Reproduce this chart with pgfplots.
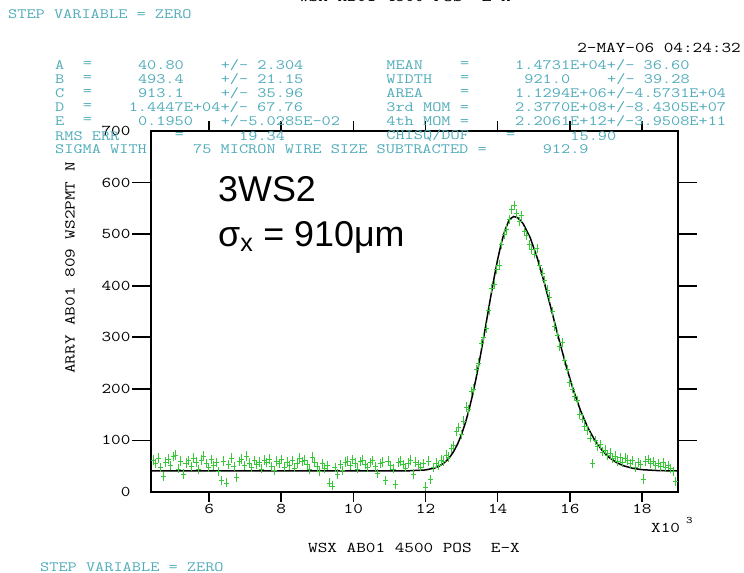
\documentclass[border=0pt]{standalone}
\usepackage{fontspec}
\newfontfamily\arial{Liberation Sans}
\usepackage{graphicx}
\usepackage{pgfplots}
\pgfplotsset{compat=1.18}
\definecolor{cyt}{RGB}{80,172,186}
\definecolor{grn}{RGB}{55,200,55}
\newcommand\M[2][15]{\scalebox{1.25}[1]{\fontsize{#1}{#1}\selectfont\ttfamily #2}}
\newcommand\Pt[3]{\node[anchor=west,inner sep=0pt,text=cyt] at ({55+#1*9.2},{573-#2}) {\M[14.3]{#3}};}
\pgfplotstableread{
x y
4.45 62
4.52 55
4.59 66
4.66 48
4.73 30
4.80 58
4.87 64
4.94 52
5.01 69
5.08 72
5.15 45
5.22 60
5.29 35
5.36 56
5.43 61
5.50 50
5.57 66
5.64 58
5.71 44
5.78 62
5.85 70
5.92 55
5.99 48
6.06 63
6.13 52
6.20 57
6.27 40
6.34 22
6.41 60
6.48 18
6.55 54
6.62 66
6.69 50
6.76 28
6.83 59
6.90 64
6.97 52
7.04 70
7.11 56
7.18 48
7.25 61
7.32 53
7.39 58
7.46 45
7.53 62
7.60 57
7.67 64
7.74 50
7.81 42
7.88 60
7.95 55
8.02 63
8.09 49
8.16 58
8.23 52
8.30 61
8.37 47
8.44 56
8.51 66
8.58 59
8.65 62
8.72 54
8.79 44
8.86 68
8.93 57
9.00 50
9.07 40
9.14 55
9.21 46
9.28 52
9.35 18
9.42 12
9.49 48
9.56 35
9.63 54
9.70 42
9.77 58
9.84 60
9.91 51
9.98 63
10.05 56
10.12 45
10.19 59
10.26 62
10.33 54
10.40 48
10.47 57
10.54 61
10.61 50
10.68 36
10.75 55
10.82 58
10.89 22
10.96 60
11.03 52
11.10 45
11.17 15
11.24 57
11.31 60
11.38 53
11.45 47
11.52 56
11.59 62
11.66 35
11.73 58
11.80 54
11.87 49
11.94 55
12.01 10
12.08 60
12.15 24
12.22 48
12.29 56
12.36 52
12.43 62
12.50 60
12.57 72
12.64 68
12.71 85
12.78 90
12.85 118
12.92 125
12.99 112
13.06 138
13.13 165
13.20 160
13.27 195
13.34 200
13.41 238
13.48 250
13.55 288
13.62 300
13.69 318
13.76 352
13.83 395
13.90 402
13.97 432
14.04 440
14.11 480
14.18 500
14.25 510
14.32 528
14.39 548
14.46 556
14.53 540
14.60 525
14.67 536
14.74 505
14.81 498
14.88 480
14.95 470
15.02 462
15.09 472
15.16 440
15.23 425
15.30 410
15.37 392
15.44 378
15.51 350
15.58 322
15.65 305
15.72 282
15.79 290
15.86 255
15.93 238
16.00 212
16.07 200
16.14 185
16.21 178
16.28 150
16.35 142
16.42 128
16.49 120
16.56 105
16.63 55
16.70 100
16.77 88
16.84 92
16.91 78
16.98 82
17.05 72
17.12 76
17.19 65
17.26 70
17.33 60
17.40 67
17.47 58
17.54 66
17.61 62
17.68 55
17.75 61
17.82 48
17.89 57
17.96 53
18.03 25
18.10 60
18.17 63
18.24 56
18.31 59
18.38 52
18.45 55
18.52 50
18.59 57
18.66 48
18.73 52
18.80 46
18.87 40
18.94 20
}\meas
\begin{document}
\begin{tikzpicture}[x=1bp,y=1bp]
\useasboundingbox (0,0) rectangle (744,573);
\begin{axis}[at={(151bp,81bp)}, anchor=south west, scale only axis,
  width=527bp, height=361bp,
  xmin=4.39, xmax=19.0, ymin=0, ymax=700,
  axis line style={line width=1.6bp},
  major tick length=0bp,
  tick style={draw=none},
  xtick={6,8,10,12,14,16,18},
  xticklabels={\M{6},\M{8},\M{10},\M{12},\M{14},\M{16},\M{18}},
  xticklabel style={yshift=-9bp},
  ytick={0,100,200,300,400,500,600,700},
  yticklabels={\M{0},\M{100},\M{200},\M{300},\M{400},\M{500},\M{600},\M{700}},
  yticklabel style={xshift=-17bp},
  clip=false]
\pgfplotsinvokeforeach{6,8,10,12,14,16,18}{
  \draw[black, line width=1.6bp] (axis cs:#1,0) -- ([yshift=-10bp]axis cs:#1,0);
  \draw[black, line width=1.6bp] (axis cs:#1,700) -- ([yshift=10bp]axis cs:#1,700);
}
\pgfplotsinvokeforeach{100,200,300,400,500,600}{
  \draw[black, line width=1.6bp] (axis cs:4.39,#1) -- ([xshift=-19bp]axis cs:4.39,#1);
  \draw[black, line width=1.6bp] (axis cs:19.0,#1) -- ([xshift=19bp]axis cs:19.0,#1);
}
\addplot[black, line width=1.5bp] coordinates {
(4.39,40.8) (11.5,40.96) (12.0,42.74) (12.25,46.47) (12.375,50.08) (12.5,55.57)
(12.6,61.79) (12.7,70.07) (12.8,80.87) (12.9,94.68) (13.0,111.85) (13.1,132.8)
(13.2,157.8) (13.3,186.8) (13.4,219.7) (13.5,255.9) (13.6,294.8) (13.7,335.2)
(13.8,375.7) (13.9,414.8) (14.0,450.9) (14.1,482.2) (14.2,507.1) (14.3,524.4)
(14.35,529.9) (14.447,534.2) (14.55,532.0) (14.7,521.1) (14.9,493.5) (15.1,453.3)
(15.3,404.2) (15.5,350.5) (15.7,295.9) (15.9,244.0) (16.1,197.4) (16.3,157.4)
(16.5,124.8) (16.7,99.3) (16.9,80.2) (17.1,66.5) (17.3,56.95) (17.5,50.63)
(17.75,45.84) (18.0,43.26) (18.5,41.30) (19.0,40.9)};
\addplot[grn, only marks, mark=-, mark size=2.5bp,
  error bars/.cd, y dir=both, y fixed=9, error mark=none,
  error bar style={grn, line width=0.9bp}] table[x=x,y=y] {\meas};
\end{axis}
% header
\node[anchor=base,inner sep=0] at (405,571) {\M{WSX AB01 4500 POS\ \ E-X}};
\node[anchor=west,inner sep=0,text=cyt] at (8,559) {\M[14.3]{STEP VARIABLE = ZERO}};
\node[anchor=east,inner sep=0] at (741,525) {\M{2-MAY-06 04:24:32}};
% fit parameters
\Pt{0}{65}{A}\Pt{3}{65}{=}\Pt{9}{65}{40.80}\Pt{18}{65}{+/- 2.304}
\Pt{36}{65}{MEAN}\Pt{44}{65}{=}\Pt{50}{65}{1.4731E+04+/- 36.60}
\Pt{0}{79}{B}\Pt{3}{79}{=}\Pt{9}{79}{493.4}\Pt{18}{79}{+/- 21.15}
\Pt{36}{79}{WIDTH}\Pt{44}{79}{=}\Pt{51}{79}{921.0}\Pt{60}{79}{+/- 39.28}
\Pt{0}{93}{C}\Pt{3}{93}{=}\Pt{9}{93}{913.1}\Pt{18}{93}{+/- 35.96}
\Pt{36}{93}{AREA}\Pt{44}{93}{=}\Pt{50}{93}{1.1294E+06+/-4.5731E+04}
\Pt{0}{107}{D}\Pt{3}{107}{=}\Pt{8}{107}{1.4447E+04+/- 67.76}
\Pt{36}{107}{3rd MOM =}\Pt{50}{107}{2.3770E+08+/-8.4305E+07}
\Pt{0}{121}{E}\Pt{3}{121}{=}\Pt{9}{121}{0.1950}\Pt{18}{121}{+/-5.0285E-02}
\Pt{36}{121}{4th MOM =}\Pt{50}{121}{2.2061E+12+/-3.9508E+11}
\Pt{0}{136}{RMS ERR}\Pt{13}{136}{=}\Pt{20}{136}{19.34}
\Pt{36}{136}{CHISQ/DOF}\Pt{49}{136}{=}\Pt{56}{136}{15.90}
\Pt{0}{149}{SIGMA WITH}\Pt{15}{149}{75 MICRON WIRE SIZE SUBTRACTED =}\Pt{53}{149}{912.9}
% annotation
\node[anchor=base west,inner sep=0] at (218,371) {\arial\fontsize{36}{36}\selectfont 3WS2};
\node[anchor=base west,inner sep=0] at (218,326) {\arial\fontsize{36}{36}\selectfont σ\textsubscript{x} = 910μm};
% axis labels
\node[rotate=90,inner sep=0] at (70,305) {\M{ARRY AB01 809 WS2PMT N}};
\node[inner sep=0] at (414,25) {\M{WSX AB01 4500 POS\ \ E-X}};
\node[anchor=west,inner sep=0] at (651,45) {\M{X10}};
\node[anchor=west,inner sep=0] at (686,53) {\M[10]{3}};
\node[anchor=west,inner sep=0,text=cyt] at (40,6) {\M[14.3]{STEP VARIABLE = ZERO}};
\end{tikzpicture}
\end{document}
